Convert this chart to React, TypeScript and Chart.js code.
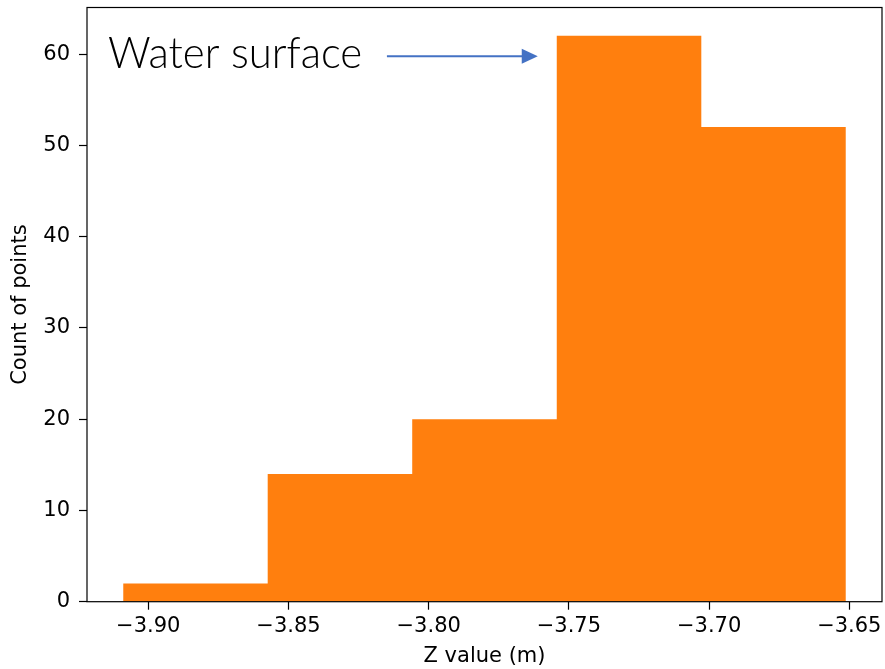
import React, { useEffect, useRef } from "react";
import { Chart, registerables } from "chart.js";

Chart.register(...registerables);

const binEdges = [-3.90897, -3.85742, -3.80588, -3.75433, -3.70278, -3.65123];
const counts = [2, 14, 20, 62, 52];
const xTicks = [-3.9, -3.85, -3.8, -3.75, -3.7, -3.65];
const yTicks = [0, 10, 20, 30, 40, 50, 60];
const xRange = [-3.92186, -3.63834];
const yRange = [0, 65.1];
const annotationText = "Water surface";
const annotationAnchor = { x: -3.9144, y: 58.5 };
const annotationEnd = { x: -3.8237 };
const arrowTail = { x: -3.8149, y: 59.76 };
const arrowTip = { x: -3.7611, y: 59.76 };

const ORANGE = "#ff7f0e";
const AXIS = "#000000";
const FONT = "'DejaVu Sans', sans-serif";

const framePlugin = {
  id: "frameAndAnnotation",
  afterDraw(chart: any) {
    const { ctx, chartArea } = chart;
    const xs = chart.scales.x;
    const ys = chart.scales.y;
    ctx.save();
    ctx.strokeStyle = AXIS;
    ctx.lineWidth = 1.2;
    ctx.strokeRect(chartArea.left, chartArea.top, chartArea.right - chartArea.left, chartArea.bottom - chartArea.top);

    // annotation text, fitted to its span
    const tx0 = xs.getPixelForValue(annotationAnchor.x);
    const tx1 = xs.getPixelForValue(annotationEnd.x);
    const ty = ys.getPixelForValue(annotationAnchor.y);
    ctx.fillStyle = "#000";
    ctx.font = "300 44px 'Lato', 'Open Sans', sans-serif";
    ctx.textBaseline = "alphabetic";
    ctx.textAlign = "left";
    const w = ctx.measureText(annotationText).width;
    const sx = (tx1 - tx0) / w;
    ctx.save();
    ctx.translate(tx0, ty);
    ctx.scale(sx, 1);
    ctx.fillText(annotationText, 0, 0);
    ctx.restore();

    // arrow
    const x0 = xs.getPixelForValue(arrowTail.x);
    const y0 = ys.getPixelForValue(arrowTail.y);
    const x1 = xs.getPixelForValue(arrowTip.x);
    const y1 = ys.getPixelForValue(arrowTip.y);
    const headLen = 16;
    const headHalf = 7.5;
    ctx.strokeStyle = "#4472C4";
    ctx.fillStyle = "#4472C4";
    ctx.lineWidth = 2;
    ctx.beginPath();
    ctx.moveTo(x0, y0);
    ctx.lineTo(x1 - headLen + 2, y1);
    ctx.stroke();
    ctx.beginPath();
    ctx.moveTo(x1, y1);
    ctx.lineTo(x1 - headLen, y1 - headHalf);
    ctx.lineTo(x1 - headLen, y1 + headHalf);
    ctx.closePath();
    ctx.fill();
    ctx.restore();
  },
};

export default function App() {
  const canvasRef = useRef<HTMLCanvasElement | null>(null);

  useEffect(() => {
    if (!canvasRef.current) return;
    const points = binEdges.map((x, i) => ({ x, y: counts[Math.min(i, counts.length - 1)] }));
    const chart = new Chart(canvasRef.current, {
      type: "line",
      data: {
        datasets: [
          {
            data: points,
            stepped: "before",
            fill: "origin",
            backgroundColor: ORANGE,
            borderColor: "rgba(0,0,0,0)",
            borderWidth: 0,
            pointRadius: 0,
            pointHoverRadius: 0,
            tension: 0,
          },
        ],
      },
      options: {
        animation: false,
        responsive: false,
        maintainAspectRatio: false,
        events: [],
        layout: { padding: { top: 7.5, right: 3, left: 0, bottom: 0 } },
        plugins: { legend: { display: false }, tooltip: { enabled: false } },
        scales: {
          x: {
            type: "linear",
            min: xRange[0],
            max: xRange[1],
            afterBuildTicks: (scale: any) => {
              scale.ticks = xTicks.map((v) => ({ value: v }));
            },
            afterFit: (scale: any) => {
              scale.height = 67.3;
              scale.paddingLeft = 0;
              scale.paddingRight = 0;
            },
            border: { display: false },
            grid: {
              drawOnChartArea: false,
              drawTicks: true,
              tickLength: 8,
              tickWidth: 1.2,
              tickColor: AXIS,
            },
            ticks: {
              color: "#000",
              font: { family: FONT, size: 21 },
              padding: 4,
              maxRotation: 0,
              autoSkip: false,
              callback: (v: any) => {
                const n = Number(v);
                return (n < 0 ? "\u2212" : "") + Math.abs(n).toFixed(2);
              },
            },
            title: {
              display: true,
              text: "Z value (m)",
              color: "#000",
              font: { family: FONT, size: 21 },
              padding: { top: 0, bottom: 0 },
            },
          },
          y: {
            type: "linear",
            min: yRange[0],
            max: yRange[1],
            afterBuildTicks: (scale: any) => {
              scale.ticks = yTicks.map((v) => ({ value: v }));
            },
            afterFit: (scale: any) => {
              scale.width = 87;
              scale.paddingTop = 0;
              scale.paddingBottom = 0;
            },
            border: { display: false },
            grid: {
              drawOnChartArea: false,
              drawTicks: true,
              tickLength: 8,
              tickWidth: 1.2,
              tickColor: AXIS,
            },
            ticks: {
              color: "#000",
              font: { family: FONT, size: 21 },
              padding: 9,
              autoSkip: false,
              callback: (v: any) => String(v),
            },
            title: {
              display: true,
              text: "Count of points",
              color: "#000",
              font: { family: FONT, size: 21 },
              padding: { top: 7.5, bottom: 0 },
            },
          },
        },
      },
      plugins: [framePlugin],
    });
    return () => chart.destroy();
  }, []);

  return (
    <div style={{ position: "fixed", left: 0, top: 0, width: 885, height: 669, background: "#fff" }}>
      <canvas ref={canvasRef} width={885} height={669} style={{ display: "block" }} />
    </div>
  );
}
